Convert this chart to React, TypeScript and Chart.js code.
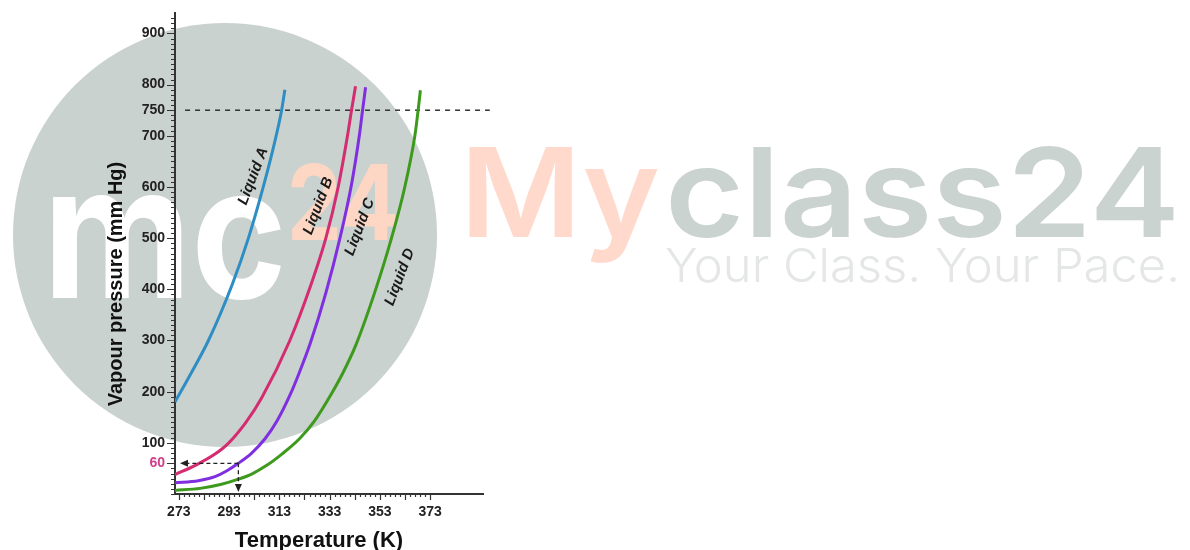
import React, { useEffect, useRef } from 'react';
import { Chart, registerables } from 'chart.js';

Chart.register(...registerables);

// ---- Axis ticks ----
const xTickValues = [273, 293, 313, 333, 353, 373];
const yTickValues = [60, 100, 200, 300, 400, 500, 600, 700, 750, 800, 900];

// ---- Series (Temperature K, Vapour pressure mm Hg) ----
const liquidATemps = [271.5, 278, 284.8, 294.3, 300.7, 306.6, 311.5, 313.9, 315.2];
const liquidAPressures = [180, 237, 300, 410, 500, 600, 695, 750, 790];

const liquidBTemps = [271.5, 280, 287.4, 292.7, 299.7, 306, 317, 325.5, 331.5, 336.4, 340.1, 341.7, 343.3];
const liquidBPressures = [38, 57, 78, 99, 140, 188, 298, 408, 500, 600, 700, 750, 797];

const liquidCTemps = [271.5, 280.8, 287.4, 292, 296.7, 302, 307.3, 312, 317.3, 321, 325.4, 331.5, 337.1, 341.7, 344.8, 346.1, 347.3];
const liquidCPressures = [22, 26, 34, 45, 60, 80, 108, 142, 194, 238, 296, 393, 500, 605, 700, 750, 795];

const liquidDTemps = [271.5, 281.5, 290, 296.7, 302, 308, 314, 321, 327, 333.5, 338, 343.5, 351, 357.6, 362.9, 366.9, 368.2, 369.1];
const liquidDPressures = [7, 11, 19, 29, 39, 56, 78, 108, 143, 194, 234, 292, 395, 500, 600, 700, 750, 789];

const seriesNames = ['Liquid A', 'Liquid B', 'Liquid C', 'Liquid D'];
const seriesColors = ['#2e8ec4', '#d42c70', '#7f2fe0', '#3d9a1d'];

// curve label anchors (data coordinates)
const labelTemps = [302.6, 328.5, 345.0, 360.9];
const labelPressures = [621, 563, 522, 424];

// guide values
const boilingPressure = 750;
const boilingLineTemps = [275.5, 396.7];
const markerPressure = 60;
const markerTemp = 296.7;
const markerTipTemp = 273.5;
const markerTipPressure = 4;

// minor ticks
const yMinorStep = 10;
const yMinorMax = 930;
const xMinorStep = 2;
const xMinorMin = 273;
const xMinorMax = 373;

const FONT = 'Arial, "Liberation Sans", sans-serif';
const WM_FONT = 'Inter, "Open Sans", "Noto Sans", sans-serif';

function fitText(ctx: CanvasRenderingContext2D, text: string, x: number, y: number, w: number, font: string, color: string) {
  ctx.save();
  ctx.font = font;
  const m = ctx.measureText(text).width;
  ctx.translate(x, y);
  ctx.scale(w / m, 1);
  ctx.fillStyle = color;
  ctx.textAlign = 'left';
  ctx.textBaseline = 'alphabetic';
  ctx.fillText(text, 0, 0);
  ctx.restore();
}

const watermarkPlugin = {
  id: 'watermark',
  beforeDraw(chart: any) {
    const ctx: CanvasRenderingContext2D = chart.ctx;
    ctx.save();
    ctx.fillStyle = '#cad2cf';
    ctx.beginPath();
    ctx.arc(225, 235, 212, 0, Math.PI * 2);
    ctx.fill();
    fitText(ctx, 'mc', 43, 298, 244, `bold 185px ${WM_FONT}`, '#ffffff');
    fitText(ctx, '24', 287, 240, 112, `bold 104px ${WM_FONT}`, '#fdd6c4');
    fitText(ctx, 'My', 460, 237, 200, `600 124px ${WM_FONT}`, '#ffd9cc');
    fitText(ctx, 'class24', 665, 237, 515, `600 124px ${WM_FONT}`, '#cbd3d0');
    fitText(ctx, 'Your Class. Your Pace.', 665, 282, 515, `300 47px ${WM_FONT}`, '#e4e7e6');
    ctx.restore();
  },
};

const ticksPlugin = {
  id: 'minorTicks',
  afterDraw(chart: any) {
    const { ctx, chartArea, scales } = chart;
    const x = scales.x;
    const y = scales.y;
    ctx.save();
    ctx.strokeStyle = '#333';
    ctx.lineWidth = 1.2;
    ctx.beginPath();
    for (let v = 0; v <= yMinorMax; v += yMinorStep) {
      const py = Math.round(y.getPixelForValue(v)) + 0.5;
      const len = yTickValues.includes(v) ? 8 : 4;
      ctx.moveTo(chartArea.left - len, py);
      ctx.lineTo(chartArea.left, py);
    }
    for (let t = xMinorMin; t <= xMinorMax; t += xMinorStep) {
      const px = Math.round(x.getPixelForValue(t)) + 0.5;
      const len = (t - xMinorMin) % 10 === 0 ? 6 : 3;
      ctx.moveTo(px, chartArea.bottom);
      ctx.lineTo(px, chartArea.bottom + len);
    }
    ctx.stroke();
    ctx.restore();

    // axis titles
    ctx.save();
    ctx.fillStyle = '#111';
    ctx.textAlign = 'center';
    ctx.textBaseline = 'middle';
    ctx.font = `bold 22px ${FONT}`;
    ctx.fillText('Temperature (K)', chartArea.left + 144, chartArea.bottom + 47);
    ctx.translate(chartArea.left - 59, chartArea.top + 271);
    ctx.rotate(-Math.PI / 2);
    ctx.font = `bold 20px ${FONT}`;
    ctx.fillText('Vapour pressure (mm Hg)', 0, 0);
    ctx.restore();
  },
};

function arrowHead(ctx: CanvasRenderingContext2D, tx: number, ty: number, dx: number, dy: number) {
  const len = 8;
  const hw = 3.5;
  const bx = tx - dx * len;
  const by = ty - dy * len;
  ctx.beginPath();
  ctx.moveTo(tx, ty);
  ctx.lineTo(bx - dy * hw, by + dx * hw);
  ctx.lineTo(bx + dy * hw, by - dx * hw);
  ctx.closePath();
  ctx.fill();
}

const guidesPlugin = {
  id: 'guides',
  afterDatasetsDraw(chart: any) {
    const { ctx, scales } = chart;
    const x = scales.x;
    const y = scales.y;
    const mx = x.getPixelForValue(markerTemp);
    const my = y.getPixelForValue(markerPressure);
    const tipX = x.getPixelForValue(markerTipTemp);
    const tipY = y.getPixelForValue(markerTipPressure);
    ctx.save();
    ctx.strokeStyle = '#222';
    ctx.fillStyle = '#222';
    ctx.lineWidth = 1.3;
    ctx.setLineDash([4, 3]);
    ctx.beginPath();
    ctx.moveTo(mx, my);
    ctx.lineTo(tipX + 6, my);
    ctx.moveTo(mx, my);
    ctx.lineTo(mx, tipY - 6);
    ctx.stroke();
    ctx.setLineDash([]);
    arrowHead(ctx, tipX, my, -1, 0);
    arrowHead(ctx, mx, tipY, 0, 1);
    ctx.restore();

    // curve labels
    ctx.save();
    ctx.fillStyle = '#1a1a1a';
    ctx.font = `italic bold 15px ${FONT}`;
    ctx.textAlign = 'center';
    ctx.textBaseline = 'middle';
    seriesNames.forEach((name, i) => {
      const px = x.getPixelForValue(labelTemps[i]);
      const py = y.getPixelForValue(labelPressures[i]);
      ctx.save();
      ctx.translate(px, py);
      ctx.rotate((-69 * Math.PI) / 180);
      ctx.fillText(name, 0, 0);
      ctx.restore();
    });
    ctx.restore();
  },
};

const toPoints = (ts: number[], ps: number[]) => ts.map((t, i) => ({ x: t, y: ps[i] }));

export default function App() {
  const ref = useRef<HTMLCanvasElement>(null);
  useEffect(() => {
    const series = [
      toPoints(liquidATemps, liquidAPressures),
      toPoints(liquidBTemps, liquidBPressures),
      toPoints(liquidCTemps, liquidCPressures),
      toPoints(liquidDTemps, liquidDPressures),
    ];
    const datasets: any[] = series.map((data, i) => ({
      label: seriesNames[i],
      data,
      borderColor: seriesColors[i],
      borderWidth: 3,
      pointRadius: 0,
      fill: false,
      cubicInterpolationMode: 'monotone',
    }));
    datasets.push({
      label: 'boiling',
      data: boilingLineTemps.map((t) => ({ x: t, y: boilingPressure })),
      borderColor: '#333',
      borderWidth: 1.5,
      borderDash: [5, 5],
      pointRadius: 0,
      fill: false,
      clip: false,
    });
    const chart = new Chart(ref.current as HTMLCanvasElement, {
      type: 'line',
      data: { datasets },
      plugins: [watermarkPlugin, ticksPlugin, guidesPlugin],
      options: {
        animation: false,
        responsive: false,
        devicePixelRatio: 1,
        layout: { padding: { left: 0, right: 707, top: 13, bottom: 0 } },
        plugins: { legend: { display: false }, tooltip: { enabled: false } },
        scales: {
          x: {
            type: 'linear',
            min: 271.5,
            max: 394,
            afterBuildTicks: (s: any) => {
              s.ticks = xTickValues.map((v) => ({ value: v }));
            },
            afterFit: (s: any) => {
              s.height = 56;
            },
            grid: { display: false, drawTicks: true, tickLength: 6 },
            border: { display: true, color: '#333', width: 2 },
            ticks: {
              padding: 4,
              autoSkip: false,
              maxRotation: 0,
              color: '#222',
              font: { family: FONT, size: 14, weight: 'bold' },
              callback: (v: any) => String(v),
            },
          },
          y: {
            type: 'linear',
            min: 0,
            max: 940,
            afterBuildTicks: (s: any) => {
              s.ticks = yTickValues.map((v) => ({ value: v }));
            },
            afterFit: (s: any) => {
              s.width = 175;
            },
            grid: { display: false, drawTicks: true, tickLength: 8 },
            border: { display: true, color: '#333', width: 2 },
            ticks: {
              padding: 2,
              autoSkip: false,
              color: (c: any) => (c.tick && c.tick.value === markerPressure ? '#cf3f8a' : '#222'),
              font: { family: FONT, size: 14, weight: 'bold' },
              callback: (v: any) => String(v),
            },
          },
        },
      } as any,
    });
    return () => chart.destroy();
  }, []);
  return (
    <canvas
      ref={ref}
      width={1190}
      height={550}
      style={{ position: 'absolute', left: 0, top: 0, width: 1190, height: 550 }}
    />
  );
}
